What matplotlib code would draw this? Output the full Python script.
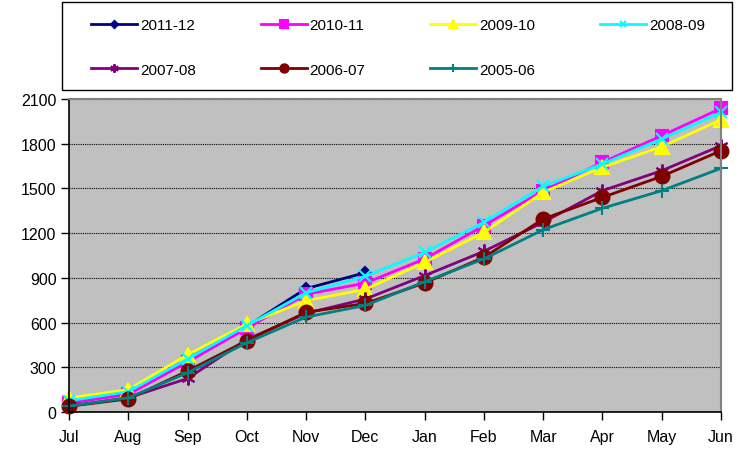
import matplotlib
matplotlib.use("Agg")
import matplotlib.pyplot as plt
from matplotlib.patches import Rectangle
import numpy as np

months = ["Jul", "Aug", "Sep", "Oct", "Nov", "Dec", "Jan", "Feb", "Mar", "Apr", "May", "Jun"]
yticks = [0, 300, 600, 900, 1200, 1500, 1800, 2100]

s2011_12 = [60, 125, 355, 575, 828, 935]
s2010_11 = [62, 118, 335, 562, 790, 865, 1027, 1250, 1485, 1675, 1854, 2037]
s2009_10 = [95, 150, 385, 590, 747, 823, 1004, 1205, 1474, 1642, 1780, 1961]
s2008_09 = [76, 136, 355, 580, 800, 910, 1071, 1273, 1514, 1664, 1832, 2010]
s2007_08 = [40, 95, 225, 486, 662, 758, 915, 1078, 1273, 1485, 1619, 1787]
s2006_07 = [38, 88, 275, 479, 669, 728, 866, 1038, 1295, 1440, 1581, 1753]
s2005_06 = [40, 95, 263, 465, 637, 715, 874, 1027, 1223, 1367, 1485, 1635]

series = [
    ("2011-12", s2011_12, "#000080", "D", 6),
    ("2010-11", s2010_11, "#FF00FF", "s", 8.5),
    ("2009-10", s2009_10, "#FFFF00", "^", 10),
    ("2008-09", s2008_09, "#00FFFF", "x", 8),
    ("2007-08", s2007_08, "#800080", (6, 2, 0), 10),
    ("2006-07", s2006_07, "#800000", "o", 10),
    ("2005-06", s2005_06, "#008080", "+", 10),
]

plt.rcParams['font.family'] = ['Liberation Sans', 'DejaVu Sans']

fig = plt.figure(figsize=(7.38, 4.52), dpi=100)
ax = fig.add_axes([69/738, 39/452, (721-69)/738, (413-100)/452])
ax.set_facecolor("#C0C0C0")

x = np.arange(len(months))
handles = []
for name, vals, col, mk, ms in series:
    h, = ax.plot(x[:len(vals)], vals, color=col, marker=mk, markersize=ms,
                 linewidth=2, markeredgewidth=1.5, markeredgecolor=col,
                 markerfacecolor=col, label=name, clip_on=False)
    handles.append(h)

ax.set_xlim(0, 11)
ax.set_ylim(0, 2100)
ax.set_yticks(yticks)
ax.set_xticks(x)
ax.set_xticklabels(months)
ax.yaxis.grid(True, color="black", linestyle=(0, (1, 1)), linewidth=0.8)
ax.set_axisbelow(True)
ax.tick_params(axis="both", direction="out", length=6, width=1, colors="black",
               labelsize=11.5, pad=3)
ax.tick_params(axis="x", pad=6)
for sp in ["left", "bottom"]:
    ax.spines[sp].set_color("#000000")
    ax.spines[sp].set_linewidth(1.2)
for sp in ["top", "right"]:
    ax.spines[sp].set_color("#808080")
    ax.spines[sp].set_linewidth(1.5)

# legend frame
fig.patches.append(Rectangle((62/738, 1 - 91/452), 670/738, 88/452,
                             transform=fig.transFigure, fill=False,
                             edgecolor="black", linewidth=1.0))

# legend is filled column by column; reorder so rows read left to right
order = [0, 4, 1, 5, 2, 6, 3]
leg = fig.legend(handles=[handles[i] for i in order], loc="upper left",
                 bbox_to_anchor=(91/738, 1 - 19/452),
                 ncol=4, fontsize=11, frameon=False,
                 handlelength=3.0, borderaxespad=0, borderpad=0,
                 labelspacing=2.0, handletextpad=0.2, columnspacing=4.25,
                 markerscale=0.6)

fig.savefig("out.png", dpi=100)
